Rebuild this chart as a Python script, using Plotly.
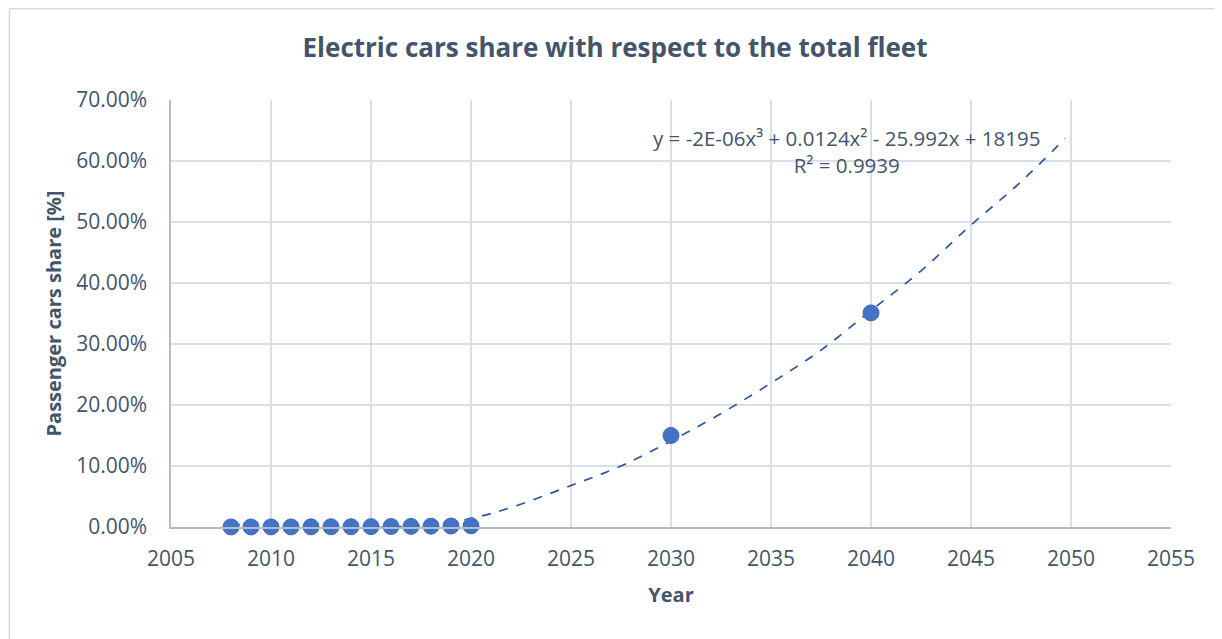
import plotly.graph_objects as go

# observed data (share of passenger cars that are electric)
years = [2008, 2009, 2010, 2011, 2012, 2013, 2014, 2015, 2016, 2017, 2018, 2019, 2020, 2030, 2040]
share = [0.0001, 0.0001, 0.0002, 0.0002, 0.0003, 0.0004, 0.0005, 0.0006, 0.0008, 0.0010, 0.0013, 0.0016, 0.0020, 0.15, 0.351]

# polynomial trendline
trend_years = [2008, 2010, 2013, 2016, 2018, 2020, 2022, 2025, 2027.5, 2030, 2032.5, 2035, 2037.5, 2040, 2042.5, 2045, 2047.5, 2049.7]
trend_share = [0.005, 0.0, -0.002, 0.0, 0.004, 0.014, 0.032, 0.068, 0.10, 0.141, 0.186, 0.236, 0.29, 0.355, 0.42, 0.495, 0.566, 0.637]

TEXT = '#44546A'
GRID = '#D9DEE7'

fig = go.Figure()

fig.add_trace(go.Scatter(
    x=trend_years, y=trend_share,
    mode='lines', line=dict(color='#2F5597', width=1.7, dash='dash', shape='spline'),
    hoverinfo='skip', showlegend=False,
))

fig.add_trace(go.Scatter(
    x=years, y=share,
    mode='markers',
    marker=dict(size=16, color='#4472C4', line=dict(color='#3F6BBE', width=1)),
    cliponaxis=False, showlegend=False,
))

fig.add_annotation(
    x=2038.75, y=0.6156, xref='x', yref='y',
    text='y = -2E-06x³ + 0.0124x² - 25.992x + 18195<br>R² = 0.9939',
    showarrow=False, align='center',
    font=dict(family='Open Sans', size=20.5, color=TEXT),
)

# chart area border: only the top and left edges show inside the window
border = dict(color='#D9D9D9', width=1.5)
fig.add_shape(type='line', xref='paper', yref='paper',
              x0=-0.1615, x1=1.06, y0=1.2135, y1=1.2135, line=border, layer='below')
fig.add_shape(type='line', xref='paper', yref='paper',
              x0=-0.1615, x1=-0.1615, y0=-0.27, y1=1.2135, line=border, layer='below')

fig.update_layout(
    width=1214, height=631,
    paper_bgcolor='white', plot_bgcolor='white',
    margin=dict(l=163, r=51, t=92, b=112),
    title=dict(text='<b>Electric cars share with respect to the total fleet</b>',
               x=0.5, xanchor='center', y=0.9366, yanchor='middle',
               font=dict(family='Open Sans', size=26, color=TEXT)),
    font=dict(family='Open Sans', size=21, color=TEXT),
    xaxis=dict(
        range=[2005, 2055], dtick=5, tick0=2005,
        showgrid=True, gridcolor=GRID, gridwidth=1.5,
        showline=True, linecolor='#B4BCCB', linewidth=1.5,
        zeroline=False, ticks='', ticklabelstandoff=12,
        title=dict(text='<b>Year</b>', font=dict(size=20, color=TEXT), standoff=17),
    ),
    yaxis=dict(
        range=[0, 0.7], dtick=0.1, tickformat='.2%',
        showgrid=True, gridcolor=GRID, gridwidth=1.5,
        showline=True, linecolor='#B4BCCB', linewidth=1.5,
        zeroline=False, ticks='', ticklabelstandoff=18,
        title=dict(text='<b>Passenger cars share [%]</b>', font=dict(size=20, color=TEXT), standoff=9),
    ),
)

fig.write_html("out.html")
